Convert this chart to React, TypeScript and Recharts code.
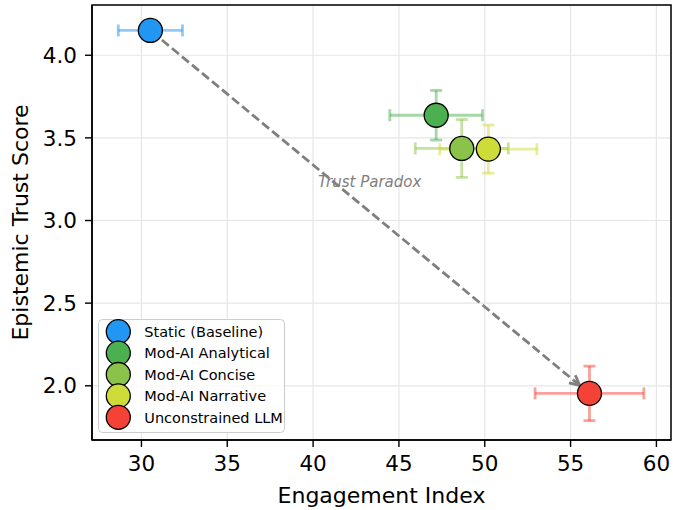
import React from "react";
import {
  ScatterChart,
  Scatter,
  XAxis,
  YAxis,
  CartesianGrid,
  ErrorBar,
  ReferenceLine,
  ReferenceDot,
  ReferenceArea,
  Legend,
} from "recharts";

// conditions and their means / errors
const conditions = [
  "Static (Baseline)",
  "Mod-AI Analytical",
  "Mod-AI Concise",
  "Mod-AI Narrative",
  "Unconstrained LLM",
];
const engagement = [30.52, 47.17, 48.66, 50.21, 56.1];
const trust = [4.15, 3.637, 3.436, 3.432, 1.954];
const engagementErr = [1.87, 2.7, 2.71, 2.83, 3.17];
const trustErr = [0.05, 0.15, 0.175, 0.146, 0.165];
const colors = ["#2196F3", "#4CAF50", "#8BC34A", "#CDDC39", "#F44336"];

const xTicks = [30, 35, 40, 45, 50, 55, 60];
const yTicks = [2.0, 2.5, 3.0, 3.5, 4.0];
const xDomain = [27.12, 60.85];
const yDomain = [1.672, 4.304];

const annotationText = "Trust Paradox";
const annotationX = 43.3;
const annotationY = 3.232;

const FONT = "'DejaVu Sans', Verdana, sans-serif";
const MARKER_R = 12;

const series = conditions.map((name, i) => ({
  name,
  color: colors[i],
  data: [{ x: engagement[i], y: trust[i], ex: engagementErr[i], ey: trustErr[i] }],
}));

const first = series[0].data[0];
const last = series[series.length - 1].data[0];

function Marker(props: any) {
  const { cx, cy, fill } = props;
  if (cx == null || cy == null) return <g />;
  return <circle cx={cx} cy={cy} r={MARKER_R} fill={fill} stroke="#000" strokeWidth={1.3} />;
}

function Arrow(props: any) {
  const { x1, y1, x2, y2 } = props;
  if ([x1, y1, x2, y2].some((v) => v == null || isNaN(v))) return <g />;
  const dx = x2 - x1;
  const dy = y2 - y1;
  const len = Math.hypot(dx, dy);
  const ux = dx / len;
  const uy = dy / len;
  const sx = x1 + ux * 2;
  const sy = y1 + uy * 2;
  const tx = x2 - ux * (MARKER_R + 0.5);
  const ty = y2 - uy * (MARKER_R + 0.5);
  const hl = 10;
  const hw = 5;
  const bx = tx - ux * hl;
  const by = ty - uy * hl;
  return (
    <g>
      <line x1={sx} y1={sy} x2={tx} y2={ty} stroke="#7f7f7f" strokeWidth={2.8} strokeDasharray="9 4" />
      <polyline
        points={`${bx - uy * hw},${by + ux * hw} ${tx},${ty} ${bx + uy * hw},${by - ux * hw}`}
        fill="none"
        stroke="#7f7f7f"
        strokeWidth={2.8}
      />
    </g>
  );
}

function AnnotationText(props: any) {
  const { cx, cy } = props;
  if (cx == null || cy == null) return <g />;
  return (
    <text
      x={cx}
      y={cy}
      dy="0.35em"
      textAnchor="middle"
      fontFamily={FONT}
      fontSize={15}
      fontStyle="italic"
      fill="#808080"
    >
      {annotationText}
    </text>
  );
}

function LegendBox() {
  const w = 187;
  const rowH = 21.4;
  const h = 114;
  return (
    <svg width={w} height={h} style={{ display: "block" }}>
      <rect x={0.5} y={0.5} width={w - 1} height={h - 1} rx={4} fill="rgba(255,255,255,0.8)" stroke="#cccccc" />
      {series.map((s, i) => {
        const cy = 12.7 + i * rowH;
        return (
          <g key={s.name}>
            <circle cx={20.3} cy={cy} r={MARKER_R} fill={s.color} stroke="#000" strokeWidth={1.3} />
            <text x={46.3} y={cy} dy="0.36em" fontFamily={FONT} fontSize={14.5} fill="#000">
              {s.name}
            </text>
          </g>
        );
      })}
    </svg>
  );
}

function XTitle(props: any) {
  const vb = props.viewBox || { x: 92, y: 440, width: 579, height: 70 };
  return (
    <text x={vb.x + vb.width / 2} y={vb.y + 63} textAnchor="middle" fontFamily={FONT} fontSize={22} fill="#000">
      Engagement Index
    </text>
  );
}

function YTitle(props: any) {
  const vb = props.viewBox || { x: 0, y: 5, width: 92, height: 435 };
  const x = vb.x + 27.5;
  const y = vb.y + vb.height / 2;
  return (
    <text x={x} y={y} transform={`rotate(-90 ${x} ${y})`} textAnchor="middle" fontFamily={FONT} fontSize={22} fill="#000">
      Epistemic Trust Score
    </text>
  );
}

const tickStyle = { fontFamily: FONT, fontSize: 21.5, fill: "#000" };

export default function App() {
  return (
    <div style={{ position: "absolute", left: 0, top: 0, width: 673, height: 510, background: "#fff" }}>
      <ScatterChart width={673} height={510} margin={{ top: 5, right: 2, bottom: 0, left: 0 }}>
        <CartesianGrid stroke="#e6e6e6" strokeWidth={1.2} />
        <XAxis
          type="number"
          dataKey="x"
          domain={xDomain}
          ticks={xTicks}
          allowDataOverflow
          height={70}
          tickSize={7}
          tickMargin={9}
          tick={tickStyle}
          tickLine={{ stroke: "#000", strokeWidth: 1.4 }}
          axisLine={{ stroke: "#000", strokeWidth: 1.5 }}
          label={{ content: XTitle }}
        />
        <YAxis
          type="number"
          dataKey="y"
          domain={yDomain}
          ticks={yTicks}
          allowDataOverflow
          width={92}
          tickSize={7}
          tickMargin={8}
          tick={tickStyle}
          tickFormatter={(v: number) => v.toFixed(1)}
          tickLine={{ stroke: "#000", strokeWidth: 1.4 }}
          axisLine={{ stroke: "#000", strokeWidth: 1.5 }}
          label={{ content: YTitle }}
        />
        <ReferenceArea
          x1={xDomain[0]}
          x2={xDomain[1]}
          y1={yDomain[0]}
          y2={yDomain[1]}
          fill="none"
          stroke="#000"
          strokeWidth={1.5}
          ifOverflow="visible"
        />
        {series.map((s) => (
          <Scatter
            key={`err-${s.name}`}
            name={`err-${s.name}`}
            data={s.data}
            fill={s.color}
            shape={() => <g />}
            legendType="none"
            isAnimationActive={false}
          >
            <ErrorBar dataKey="ex" direction="x" width={6} stroke={s.color} strokeOpacity={0.5} strokeWidth={2.8} />
            <ErrorBar dataKey="ey" direction="y" width={6} stroke={s.color} strokeOpacity={0.5} strokeWidth={2.8} />
          </Scatter>
        ))}
        <ReferenceLine
          segment={[
            { x: first.x, y: first.y },
            { x: last.x, y: last.y },
          ]}
          shape={Arrow}
          ifOverflow="visible"
        />
        <ReferenceDot x={annotationX} y={annotationY} r={0} shape={AnnotationText} ifOverflow="visible" />
        {series.map((s) => (
          <Scatter
            key={s.name}
            name={s.name}
            data={s.data}
            fill={s.color}
            shape={Marker}
            isAnimationActive={false}
          />
        ))}
        <Legend
          layout="vertical"
          align="center"
          verticalAlign="middle"
          content={() => <LegendBox />}
          wrapperStyle={{ left: 98, top: 319, width: 187, height: 114 }}
        />
      </ScatterChart>
    </div>
  );
}
